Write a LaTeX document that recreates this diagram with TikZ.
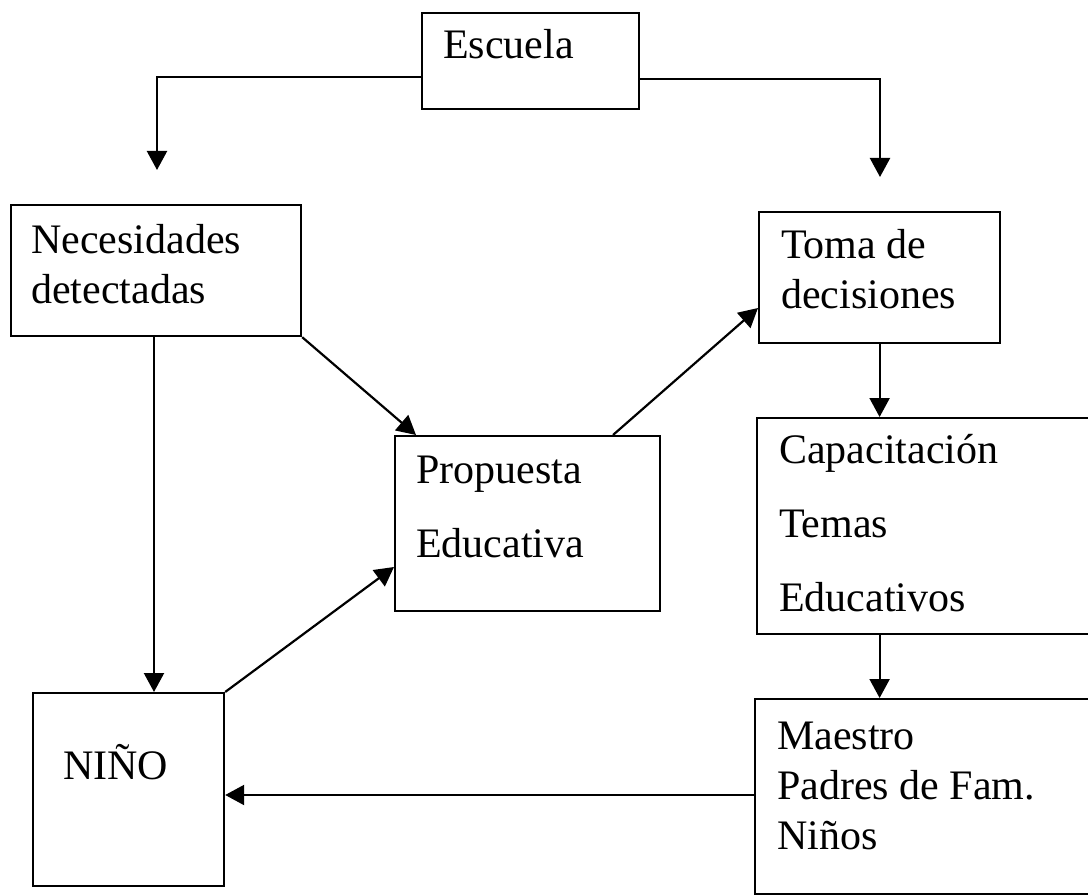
\documentclass[tikz,border=0pt]{standalone}
\usepackage{fontspec}
\setmainfont{Liberation Serif}
\usetikzlibrary{arrows.meta, calc, positioning}

\tikzset{
  caja/.style={draw, line width=2.2pt, anchor=north west, inner sep=0pt},
  texto/.style={inner sep=0pt, align=left, font=\fontsize{42}{50}\selectfont},
  textoamplio/.style={texto, font=\fontsize{42}{74}\selectfont},
  flecha/.style={line width=2.2pt, -{Triangle[length=19pt, width=20pt]}}
}

\begin{document}
\begin{tikzpicture}[x=1pt, y=-1pt]
  \useasboundingbox (0,0) rectangle (1088,896);

  % cajas
  \node[caja, minimum width=217, minimum height=96] (escuela) at (421,12) {};
  \node[caja, minimum width=290, minimum height=131] (necesidades) at (10,204) {};
  \node[caja, minimum width=241, minimum height=131] (toma) at (758,211) {};
  \node[caja, minimum width=265, minimum height=175] (propuesta) at (394,435) {};
  \node[caja, minimum width=340, minimum height=216] (capacitacion) at (756,417) {};
  \node[caja, minimum width=340, minimum height=195] (maestro) at (754,698) {};
  \node[caja, minimum width=191, minimum height=193] (ninio) at (32,692) {};

  % textos
  \node[texto, anchor=base west] (tescuela) at (443,59) {Escuela};
  \node[texto, anchor=north west] (tnecesidades) at (31,224) {Necesidades\\detectadas};
  \node[texto, anchor=north west] (ttoma) at (781,229) {Toma de\\decisiones};
  \node[textoamplio, anchor=north west] (tpropuesta) at (416,456) {Propuesta\\Educativa};
  \node[textoamplio, anchor=north west] (tcapacitacion) at (779,434) {Capacitación\\Temas\\Educativos};
  \node[texto, anchor=north west] (tmaestro) at (777,722) {Maestro\\Padres de Fam.\\Niños};
  \node[texto, anchor=base west] (tninio) at (63,779) {NIÑO};

  % flechas
  \coordinate (finnec) at (157,170);
  \coordinate (fintoma) at (880,177);
  \draw[flecha] ($(escuela.west)+(0,16)$) -| (finnec);
  \draw[flecha] ($(escuela.east)+(0,18)$) -| (fintoma);
  \draw[flecha] (necesidades.south -| 154,0) -- (ninio.north -| 154,0);
  \draw[flecha] (necesidades.south east) -- ($(propuesta.north west)+(22,0)$);
  \draw[flecha] ($(propuesta.north west)+(219,0)$) -- ($(toma.north west)+(0,97)$);
  \draw[flecha] (toma.south) -- (toma.south |- capacitacion.north);
  \draw[flecha] (capacitacion.south -| toma.south) -- (toma.south |- maestro.north);
  \draw[flecha] (maestro.west |- 0,795) -- (ninio.east |- 0,795);
  \draw[flecha] (ninio.north east) -- ($(propuesta.north west)+(0,132)$);

\end{tikzpicture}
\end{document}
